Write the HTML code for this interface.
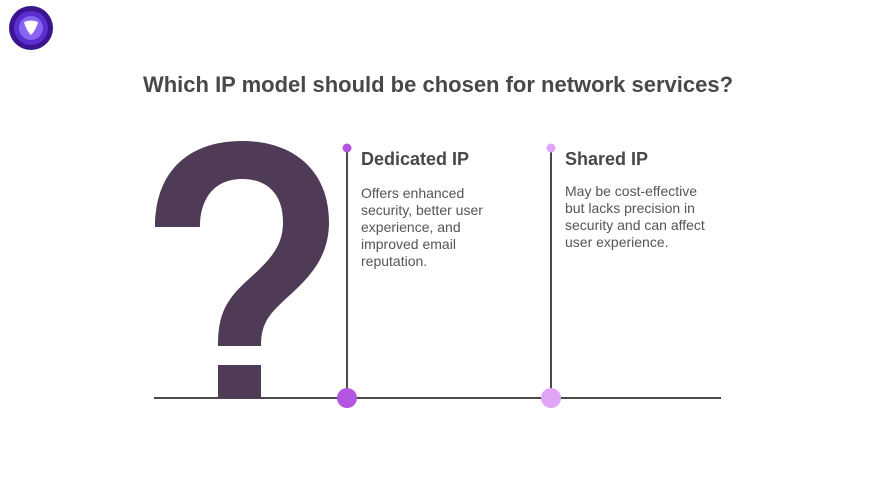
<!DOCTYPE html>
<html><head><style>
body{margin:0;width:876px;height:493px;background:#fff;overflow:hidden;font-family:"Liberation Sans",sans-serif;position:relative}
.t{position:absolute;color:#484848}
</style></head><body>
<svg width="876" height="493" style="position:absolute;left:0;top:0">
<circle cx="31" cy="28" r="22" fill="#3b148f"/>
<circle cx="31" cy="28" r="17" fill="#5a2fd0"/>
<circle cx="31" cy="28" r="12" fill="#8a65f0"/>
<path d="M24,22 Q31,19 38,22 Q36,30 31,35 Q26,30 24,22Z" fill="#fff"/>
<line x1="154" y1="398" x2="721" y2="398" stroke="#4a4a4a" stroke-width="2"/>
<path d="M155,227 C155,170 190,141 242,141 C295,141 329,172 329,222 C329,255 312,275 290,295 C270,313 261,322 261,346 L218,346 C218,315 225,300 250,278 C272,258 283,245 283,222 C283,195 268,179 242,179 C215,179 200,198 200,227 Z" fill="#4f3b56"/>
<rect x="218" y="365" width="43" height="33" fill="#4f3b56"/>
<line x1="347" y1="148" x2="347" y2="398" stroke="#4a4a4a" stroke-width="2"/>
<circle cx="347" cy="148" r="4.5" fill="#b355e0"/>
<circle cx="347" cy="398" r="10" fill="#b355e0"/>
<line x1="551" y1="148" x2="551" y2="398" stroke="#4a4a4a" stroke-width="2"/>
<circle cx="551" cy="148" r="4.5" fill="#e0a5f6"/>
<circle cx="551" cy="398" r="10" fill="#e0a5f6"/>
</svg>
<div class="t" style="left:0;width:876px;text-align:center;top:72px;font-size:22px;font-weight:bold;color:#484848">Which IP model should be chosen for network services?</div>
<div class="t" style="left:361px;top:149px;font-size:18px;font-weight:bold">Dedicated IP</div>
<div class="t" style="left:361px;top:185px;font-size:14px;line-height:17px;color:#555">Offers enhanced<br>security, better user<br>experience, and<br>improved email<br>reputation.</div>
<div class="t" style="left:565px;top:149px;font-size:18px;font-weight:bold">Shared IP</div>
<div class="t" style="left:565px;top:183px;font-size:14px;line-height:17px;color:#555">May be cost-effective<br>but lacks precision in<br>security and can affect<br>user experience.</div>
</body></html>
